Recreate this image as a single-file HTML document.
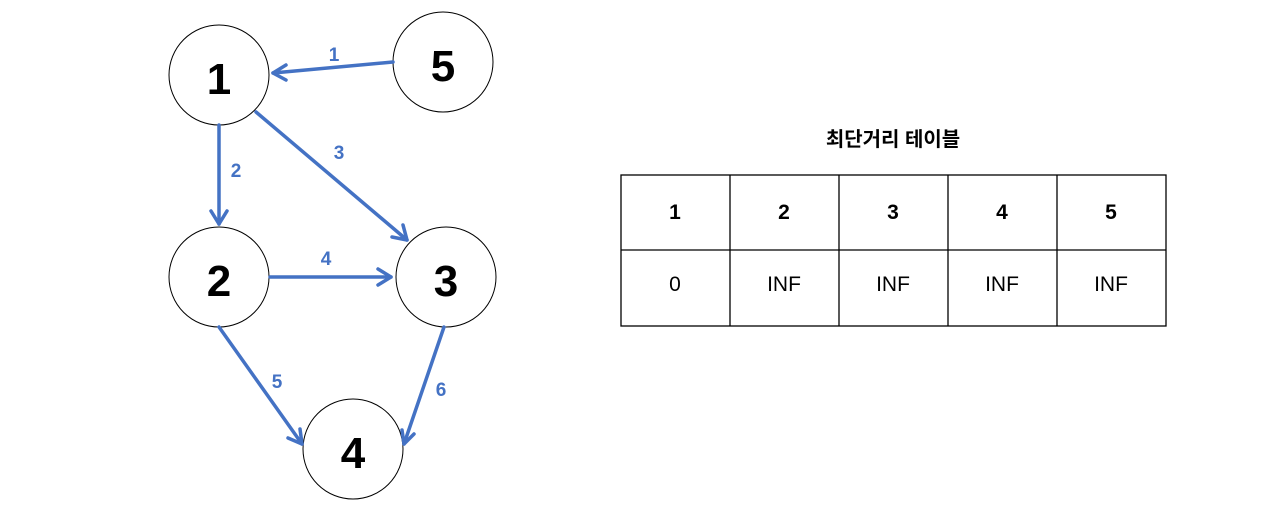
<!DOCTYPE html>
<html><head><meta charset="utf-8"><style>
html,body{margin:0;padding:0;background:#fff;width:1261px;height:506px;overflow:hidden}
</style></head><body>
<svg width="1261" height="506" xmlns="http://www.w3.org/2000/svg" style="position:absolute;left:0;top:0">
<g fill="#fff" stroke="#000" stroke-width="1">
<circle cx="219" cy="75" r="50"/>
<circle cx="443" cy="62" r="50"/>
<circle cx="219" cy="277" r="50"/>
<circle cx="446" cy="277" r="50"/>
<circle cx="353" cy="449" r="50"/>
</g>
<g font-family="'Liberation Sans',sans-serif" font-weight="bold" font-size="44" text-anchor="middle" fill="#000">
<text x="219" y="94">1</text>
<text x="443" y="81">5</text>
<text x="219" y="296">2</text>
<text x="446" y="296">3</text>
<text x="353" y="468">4</text>
</g>
<g stroke="#4472C4" stroke-width="3.5" fill="none" stroke-linecap="round" stroke-linejoin="round">
<line x1="393" y1="62" x2="273" y2="73"/><polyline points="286,65 273,73 286,80"/>
<line x1="219" y1="125" x2="219" y2="224"/><polyline points="211,211 219,224 227,211"/>
<line x1="256" y1="112" x2="407" y2="240"/><polyline points="403,225 407,240 392,237"/>
<line x1="270" y1="277" x2="391" y2="277"/><polyline points="378,269 391,277 378,285"/>
<line x1="219" y1="327" x2="302" y2="444"/><polyline points="300,429 302,444 288,438"/>
<line x1="444" y1="327" x2="404" y2="444"/><polyline points="402,430 404,444 414,434"/>
</g>
<g font-family="'Liberation Sans',sans-serif" font-weight="bold" font-size="19" text-anchor="middle" fill="#4472C4">
<text x="334" y="61">1</text>
<text x="236" y="177">2</text>
<text x="339" y="159">3</text>
<text x="326" y="265">4</text>
<text x="277" y="388">5</text>
<text x="441" y="396">6</text>
</g>
<text x="893" y="146" text-anchor="middle" font-family="'Liberation Sans','Noto Sans CJK KR',sans-serif" font-weight="bold" font-size="20" fill="#000">최단거리 테이블</text>
<g stroke="#000" stroke-width="1.3" fill="none">
<rect x="621" y="175" width="545" height="151"/>
<line x1="621" y1="250" x2="1166" y2="250"/>
<line x1="730" y1="175" x2="730" y2="326"/>
<line x1="839" y1="175" x2="839" y2="326"/>
<line x1="948" y1="175" x2="948" y2="326"/>
<line x1="1057" y1="175" x2="1057" y2="326"/>
</g>
<g font-family="'Liberation Sans',sans-serif" font-size="21" text-anchor="middle" fill="#000">
<g font-weight="bold">
<text x="675" y="219">1</text><text x="784" y="219">2</text><text x="893" y="219">3</text><text x="1002" y="219">4</text><text x="1111" y="219">5</text>
</g>
<text x="675" y="291">0</text><text x="784" y="291">INF</text><text x="893" y="291">INF</text><text x="1002" y="291">INF</text><text x="1111" y="291">INF</text>
</g>
</svg>
</body></html>
